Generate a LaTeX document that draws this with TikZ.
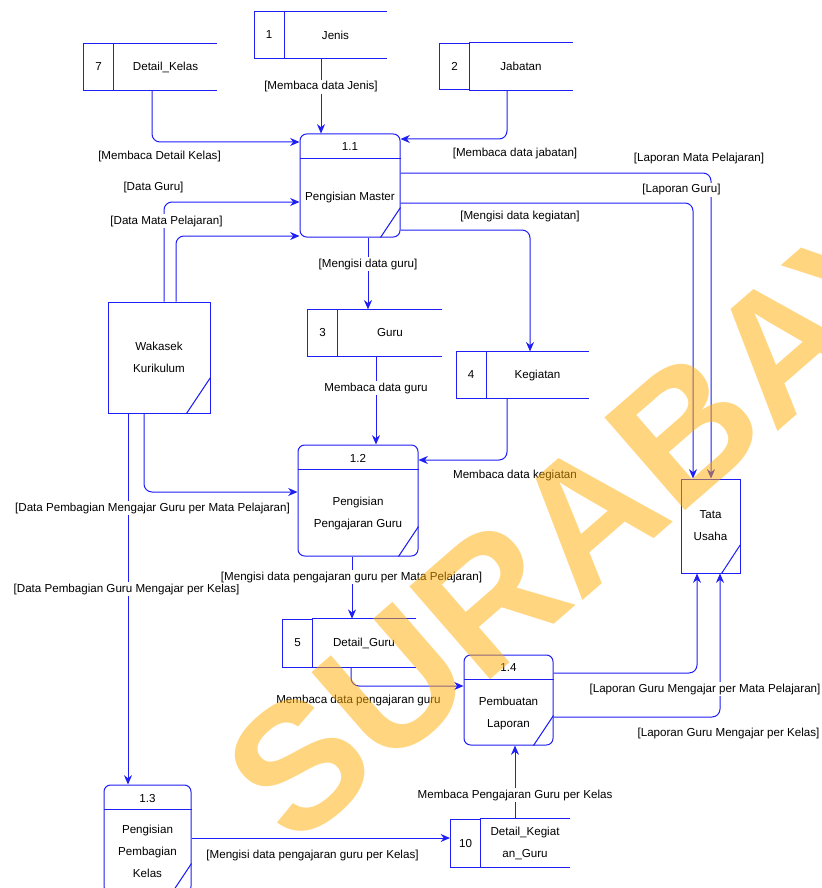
\documentclass[tikz,border=0pt]{standalone}
\usepackage{fontspec}
\setmainfont{Liberation Sans}
\usetikzlibrary{arrows.meta}

\definecolor{dfdblue}{RGB}{30,30,245}
\definecolor{wmorange}{RGB}{255,173,0}

\tikzset{
  dfdline/.style={draw=dfdblue, line width=0.75pt},
  flow/.style={dfdline, rounded corners=6pt, -{Stealth[length=7pt,width=6pt]}},
  proc/.style={dfdline, rounded corners=5pt, inner sep=0pt},
  entity/.style={dfdline, inner sep=0pt, align=center},
  storeid/.style={dfdline, minimum width=22.5pt, minimum height=35pt, inner sep=0pt},
  storebody/.style={minimum width=77.25pt, minimum height=35pt, inner sep=0pt, align=center},
  flowlabel/.style={fill=white, inner sep=1pt},
  watermark/.style={text=wmorange, text opacity=0.5, rotate=41, inner sep=0pt,
    font=\fontsize{134}{134}\selectfont\bfseries},
}

\begin{document}
\begin{tikzpicture}[x=0.75pt, y=-0.75pt, font=\fontsize{8.7}{16.5}\selectfont]
  \useasboundingbox (0,0) rectangle (821,888);
  \fill[white] (0,0) rectangle (821,888);
  \clip (0,0) rectangle (821,888);

  % Data stores
  \node[storeid] (s1) at (269,35) {1};
  \node[storebody] (jenis) at (335.5,35) {Jenis};
  \node[storeid] (s7) at (98.5,67) {7};
  \node[storebody] (dkelas) at (165.5,67) {Detail\_Kelas};
  \node[storeid] (s2) at (454.5,66.5) {2};
  \node[storebody] (jabatan) at (521,66.5) {Jabatan};
  \node[storeid] (s3) at (322.5,333) {3};
  \node[storebody] (guru) at (390,333) {Guru};
  \node[storeid] (s4) at (471,375) {4};
  \node[storebody] (kegiatan) at (537.5,375) {Kegiatan};
  \node[storeid, minimum height=36pt] (s5) at (297.5,643) {5};
  \node[storebody, minimum height=36pt] (dguru) at (364,643) {Detail\_Guru};
  \node[storeid, minimum height=36pt] (s10) at (465.5,843) {10};
  \node[storebody, minimum height=36pt, minimum width=67.5pt] (dkg) at (525,843) {Detail\_Kegiat\\an\_Guru};
  \foreach \s in {jenis,dkelas,jabatan,guru,kegiatan,dguru,dkg}
    \draw[dfdline] (\s.north west) -- (\s.north east) (\s.south west) -- (\s.south east);

  % Processes
  \node[proc, minimum width=75pt, minimum height=77.25pt] (p11) at (350,185.5) {};
  \node (p11-id) at (350,147) {1.1};
  \node[align=center] (p11-txt) at (350,198) {Pengisian Master};
  \node[proc, minimum width=90pt, minimum height=83.25pt] (p12) at (358,500.5) {};
  \node (p12-id) at (358,458) {1.2};
  \node[align=center] (p12-txt) at (358,513) {Pengisian\\Pengajaran Guru};
  \node[proc, minimum width=65.25pt, minimum height=81pt] (p13) at (147.5,839) {};
  \node (p13-id) at (147.5,798) {1.3};
  \node[align=center] (p13-txt) at (147.5,851) {Pengisian\\Pembagian\\Kelas};
  \node[proc, minimum width=66.75pt, minimum height=67.5pt] (p14) at (508.5,700) {};
  \node (p14-id) at (508.5,668) {1.4};
  \node[align=center] (p14-txt) at (508.5,713) {Pembuatan\\Laporan};
  \foreach \p in {p11,p12,p13,p14} {
    \draw[dfdline] ([yshift=-19pt]\p.north west) -- ([yshift=-19pt]\p.north east);
    \draw[dfdline] ([xshift=-15pt]\p.south east) -- ([yshift=22.5pt]\p.south east);
  }

  % External entities
  \node[entity, minimum width=76.5pt, minimum height=83.25pt] (wakasek) at (159,357.5) {Wakasek\\Kurikulum};
  \node[entity, minimum width=44.25pt, minimum height=70.5pt] (tu) at (710.5,526) {Tata\\Usaha};
  \draw[dfdline] ([xshift=-18pt]wakasek.south east) -- ([yshift=27pt]wakasek.south east);
  \draw[dfdline] ([xshift=-14.25pt]tu.south east) -- ([yshift=21.75pt]tu.south east);

  % Data flows
  \draw[flow] (jenis.south -| 321,0) -- (p11.north -| 321,0);
  \draw[flow] (dkelas.south -| 152,0) |- (p11.west |- 0,142);
  \draw[flow] (jabatan.south -| 507,0) |- (p11.east |- 0,139);
  \draw[flow] (p11.east |- 0,173) -| (tu.north -| 711,0);
  \draw[flow] (p11.east |- 0,203) -| (tu.north -| 693,0);
  \draw[flow] (p11.east |- 0,230) -| (kegiatan.north -| 530,0);
  \draw[flow] (p11.south -| 368,0) -- (guru.north -| 368,0);
  \draw[flow] (wakasek.north -| 164,0) |- (p11.west |- 0,202);
  \draw[flow] (wakasek.north -| 176,0) |- (p11.west |- 0,236);
  \draw[flow] (guru.south -| 376,0) -- (p12.north -| 376,0);
  \draw[flow] (kegiatan.south -| 507,0) |- (p12.east |- 0,460);
  \draw[flow] (wakasek.south -| 144,0) |- (p12.west |- 0,492);
  \draw[flow] (wakasek.south -| 128,0) -- (p13.north -| 128,0);
  \draw[flow] (p12.south -| 352,0) -- (dguru.north -| 352,0);
  \draw[flow] (dguru.south -| 351,0) |- (p14.west |- 0,686);
  \draw[flow] (p13.east |- 0,838) -- (s10.west |- 0,838);
  \draw[flow] (dkg.north -| 515,0) -- (p14.south -| 515,0);
  \draw[flow] (p14.east |- 0,673) -| (tu.south -| 697,0);
  \draw[flow] (p14.east |- 0,717) -| (tu.south -| 720,0);

  % Flow labels
  \node[flowlabel] (l-jenis) at (321,87) {[Membaca data Jenis]};
  \node[flowlabel] (l-dkelas) at (159.5,157) {[Membaca Detail Kelas]};
  \node[flowlabel] (l-jabatan) at (515,154) {[Membaca data jabatan]};
  \node[flowlabel] (l-lapmp) at (699,159) {[Laporan Mata Pelajaran]};
  \node[flowlabel] (l-lapguru) at (681.5,190) {[Laporan Guru]};
  \node[flowlabel] (l-mkeg) at (520,217) {[Mengisi data kegiatan]};
  \node[flowlabel] (l-mguru) at (368,264) {[Mengisi data guru]};
  \node[flowlabel] (l-bguru) at (376,388) {Membaca data guru};
  \node[flowlabel] (l-bkeg) at (515,475) {Membaca data kegiatan};
  \node[flowlabel] (l-dguru) at (153.5,188) {[Data Guru]};
  \node[flowlabel] (l-dmp) at (166.5,221) {[Data Mata Pelajaran]};
  \node[flowlabel] (l-dpmp) at (152.5,508) {[Data Pembagian Mengajar Guru per Mata Pelajaran]};
  \node[flowlabel] (l-dpk) at (126.5,589) {[Data Pembagian Guru Mengajar per Kelas]};
  \node[flowlabel] (l-mpmp) at (351.5,577) {[Mengisi data pengajaran guru per Mata Pelajaran]};
  \node[flowlabel] (l-bpg) at (358.5,700) {Membaca data pengajaran guru};
  \node[flowlabel] (l-mpk) at (312.5,855) {[Mengisi data pengajaran guru per Kelas]};
  \node[flowlabel] (l-bpk) at (515,795) {Membaca Pengajaran Guru per Kelas};
  \node[flowlabel] (l-lgmp) at (705,689) {[Laporan Guru Mengajar per Mata Pelajaran]};
  \node[flowlabel] (l-lgk) at (728.5,733) {[Laporan Guru Mengajar per Kelas]};

  % Watermark
  \node[watermark] (wm) at (624,483) {SURABAYA};
\end{tikzpicture}
\end{document}
